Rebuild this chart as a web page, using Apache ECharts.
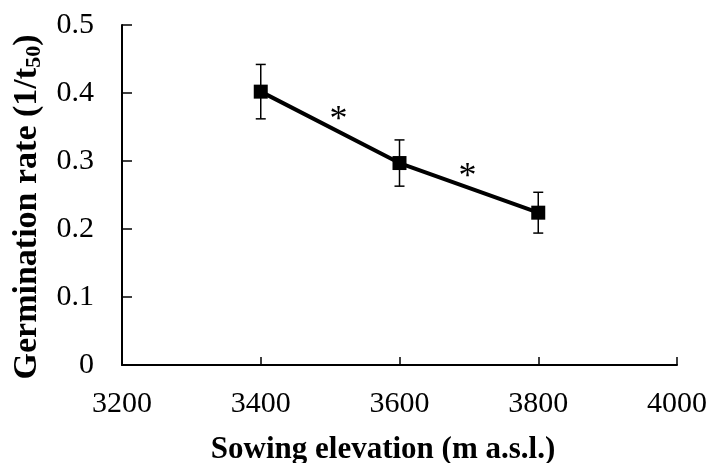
<!DOCTYPE html>
<html>
<head>
<meta charset="utf-8">
<script src="https://cdn.jsdelivr.net/npm/echarts@6/dist/echarts.min.js"></script>
<style>
  html, body { margin: 0; padding: 0; background: #fff; }
  #chart { width: 710px; height: 463px; }
</style>
</head>
<body>
<div id="chart"></div>
<script>
// Sowing elevations (m a.s.l.) and mean germination rate with error
const elevations = [3400, 3600, 3800];
const rates = [0.402, 0.297, 0.224];
const errors = [0.040, 0.034, 0.030];

// Significance markers placed between neighbouring points
const starElevations = [3512, 3698];
const starRates = [0.359, 0.275];

const xTicks = { min: 3200, max: 4000, step: 200 };
const yTicks = { min: 0, max: 0.5, step: 0.1 };

const FONT = '"Liberation Serif", "Times New Roman", serif';

const chart = echarts.init(document.getElementById('chart'), null, { renderer: 'canvas' });

const lineData = elevations.map((x, i) => [x, rates[i]]);
const errData = elevations.map((x, i) => [x, rates[i] - errors[i], rates[i] + errors[i]]);
const starData = starElevations.map((x, i) => [x, starRates[i]]);

chart.setOption({
  animation: false,
  backgroundColor: '#fff',
  grid: { left: 122, right: 32, top: 25, bottom: 98 },
  xAxis: {
    type: 'value',
    min: xTicks.min, max: xTicks.max, interval: xTicks.step,
    axisLine: { lineStyle: { color: '#000', width: 2 } },
    axisTick: { inside: true, length: 8, lineStyle: { color: '#000', width: 1.5 } },
    axisLabel: {
      color: '#000', fontFamily: FONT, fontSize: 30, margin: 24,
      formatter: v => String(v)
    },
    splitLine: { show: false }
  },
  yAxis: {
    type: 'value',
    min: yTicks.min, max: yTicks.max, interval: yTicks.step,
    axisLine: { lineStyle: { color: '#000', width: 2 } },
    axisTick: { inside: true, length: 10, lineStyle: { color: '#000', width: 1.5 } },
    axisLabel: {
      color: '#000', fontFamily: FONT, fontSize: 30, margin: 28,
      formatter: v => String(+v.toFixed(1))
    },
    splitLine: { show: false }
  },
  graphic: [
    {
      type: 'text',
      x: 383, y: 450,
      style: {
        text: 'Sowing elevation (m a.s.l.)',
        fill: '#000',
        font: 'bold 31px ' + FONT,
        textAlign: 'center',
        textVerticalAlign: 'middle'
      }
    },
    {
      type: 'text',
      x: 27, y: 207,
      rotation: Math.PI / 2,
      style: {
        text: '{a|Germination rate (1/t}{s|50}{a|)}',
        fill: '#000',
        textAlign: 'center',
        textVerticalAlign: 'middle',
        rich: {
          a: { font: 'bold 34px ' + FONT, fill: '#000' },
          s: { font: 'bold 22px ' + FONT, fill: '#000', padding: [15, 0, 0, 0] }
        }
      }
    }
  ],
  series: [
    {
      type: 'custom',
      z: 1,
      data: errData,
      renderItem: function (params, api) {
        const x = api.value(0);
        const lo = api.coord([x, api.value(1)]);
        const hi = api.coord([x, api.value(2)]);
        const half = 5;
        const style = { stroke: '#000', lineWidth: 1.5 };
        return {
          type: 'group',
          children: [
            { type: 'line', shape: { x1: lo[0], y1: lo[1], x2: hi[0], y2: hi[1] }, style },
            { type: 'line', shape: { x1: hi[0] - half, y1: hi[1], x2: hi[0] + half, y2: hi[1] }, style },
            { type: 'line', shape: { x1: lo[0] - half, y1: lo[1], x2: lo[0] + half, y2: lo[1] }, style }
          ]
        };
      }
    },
    {
      type: 'line',
      z: 2,
      data: lineData,
      symbol: 'rect',
      symbolSize: 14,
      itemStyle: { color: '#000' },
      lineStyle: { color: '#000', width: 4 }
    },
    {
      type: 'custom',
      z: 3,
      data: starData,
      renderItem: function (params, api) {
        const p = api.coord([api.value(0), api.value(1)]);
        return {
          type: 'text',
          x: p[0], y: p[1],
          style: {
            text: '*',
            fill: '#000',
            font: '36px ' + FONT,
            textAlign: 'center',
            textVerticalAlign: 'middle'
          }
        };
      }
    }
  ]
});
</script>
</body>
</html>
